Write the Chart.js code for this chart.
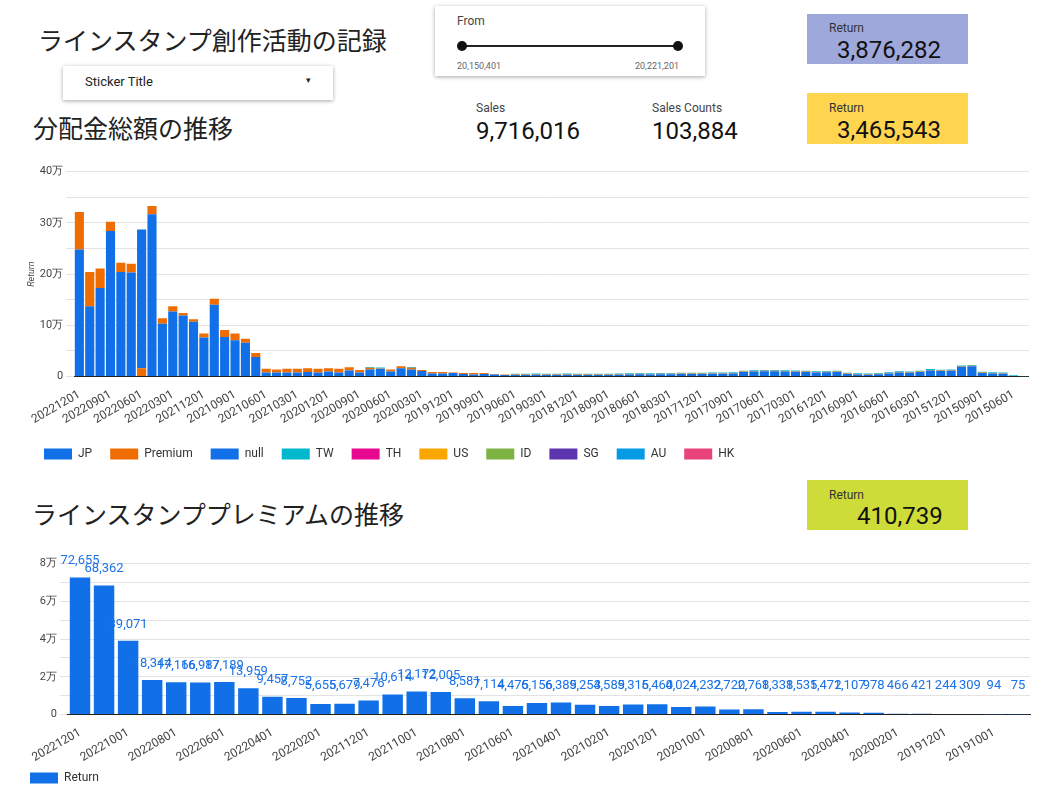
<!DOCTYPE html>
<html><head><meta charset="utf-8">
<script src="https://cdn.jsdelivr.net/npm/chart.js@4"></script>
<style>
body{margin:0;width:1042px;height:797px;background:#fff;font-family:Roboto,"Noto Sans CJK JP",sans-serif;position:relative;overflow:hidden;color:#222}
.abs{position:absolute}
.title{font-family:"Noto Sans CJK JP";font-size:25px;color:#222}
.card{box-shadow:0 1px 4px rgba(0,0,0,.35);background:#fff}
.ret{font-size:12px;color:#333}
.big{font-size:24px;color:#111}
.small{font-size:12px;color:#444}
</style></head><body>
<div class="abs title" style="left:38px;top:21px">ラインスタンプ創作活動の記録</div>
<div class="abs card" style="left:63px;top:66px;width:270px;height:34px">
  <div class="abs" style="left:22px;top:8px;font-size:13px">Sticker Title</div>
  <div class="abs" style="left:243px;top:9px;font-size:9px">▾</div>
</div>
<div class="abs card" style="left:435px;top:6px;width:270px;height:70px">
  <div class="abs small" style="left:22px;top:8px">From</div>
  <div class="abs" style="left:27px;top:39px;width:216px;height:2px;background:#222"></div>
  <div class="abs" style="left:22px;top:35px;width:10px;height:10px;border-radius:5px;background:#111"></div>
  <div class="abs" style="left:238px;top:35px;width:10px;height:10px;border-radius:5px;background:#111"></div>
  <div class="abs" style="left:22px;top:55px;font-size:9px;color:#666">20,150,401</div>
  <div class="abs" style="left:200px;top:55px;font-size:9px;color:#666">20,221,201</div>
</div>
<div class="abs" style="left:807px;top:14px;width:161px;height:50px;background:#9fa8da">
  <div class="abs ret" style="left:22px;top:7px">Return</div>
  <div class="abs big" style="left:30px;top:22px">3,876,282</div>
</div>
<div class="abs title" style="left:33px;top:109px">分配金総額の推移</div>
<div class="abs small" style="left:476px;top:101px">Sales</div>
<div class="abs big" style="left:476px;top:117px">9,716,016</div>
<div class="abs small" style="left:652px;top:101px">Sales Counts</div>
<div class="abs big" style="left:652px;top:117px">103,884</div>
<div class="abs" style="left:807px;top:93px;width:161px;height:51px;background:#ffd54f">
  <div class="abs ret" style="left:22px;top:8px">Return</div>
  <div class="abs big" style="left:30px;top:23px">3,465,543</div>
</div>
<div class="abs" style="left:22px;top:162px;width:1012px;height:308px"><canvas id="c1"></canvas></div>
<div class="abs title" style="left:32px;top:495px">ラインスタンププレミアムの推移</div>
<div class="abs" style="left:807px;top:480px;width:161px;height:50px;background:#cddc39">
  <div class="abs ret" style="left:22px;top:8px">Return</div>
  <div class="abs big" style="left:50px;top:22px">410,739</div>
</div>
<div class="abs" style="left:22px;top:554px;width:1012px;height:240px"><canvas id="c2"></canvas></div>
<script>
// 分配金総額: monthly, newest first (yen)
const jp = [248000,137000,173000,284000,204000,203000,0,317000,103000,127000,119000,107000,76000,140000,77000,71000,66000,38000,8000,
  8000,8000,8000,9000,8000,10000,8000,12000,8000,14000,15000,10000,16000,14000,11000,6000,6000,7000,5000,4000,5000,4000,3000,
  3000,3000,3500,3000,3000,3500,3000,3000,3000,
  3000,3500,4000,4500,4000,4500,4500,5000,5000,5000,5500,5500,6000,
  9000,10000,10500,10500,10000,9500,9000,8000,8500,9000,
  5000,4000,3500,4500,6000,
  8000,7500,9000,12000,11000,11500,19000,
  20000,7000,6000,5500,1000,500];
const premium = [73000,67000,38000,18000,18000,17000,16000,16000,11000,10000,5000,5000,8000,12000,14000,13000,8000,8000,7000,
  6000,7000,7000,7000,7000,6000,7000,6000,5000,3000,1000,4000,4000,3000,2000,3000,3000,1000,2000,3000,2000,1000,1000,
  1000,1000,1000,1000,1000,1000,1000,1000,1000,
  1000,1000,1000,1000,1000,1000,1000,1000,1000,1000,1000,1000,1000,
  1000,1000,1000,1000,1000,1000,1000,1000,1000,1000,
  1000,1000,1000,1000,1000,
  1000,1000,1000,1000,1000,1000,1000,
  1000,1000,1000,1000,0,0];
const nullSeries = [0,0,0,0,0,0,271000];
const tw = [0,0,0,0,0,0,0,0,0,0,0,0,0,0,0,0,0,0,0,
  0,0,0,0,0,0,0,0,0,1500,1500,0,0,1500,0,0,0,0,0,0,0,0,0,
  1500,1500,1500,1500,1500,1500,1500,1500,1500,
  1500,1500,1500,1500,1500,1500,1500,1500,1500,1500,1500,1500,1500,
  1500,1500,1500,1500,1500,1500,1500,1500,1500,1500,
  1500,1500,1500,1500,1500,
  1500,1500,1500,1500,1500,1500,1500,
  1500,1500,1500,1500,1500,500];
// プレミアム (yen), newest first
const premiumReturn = [72655,68362,39071,18344,17166,16987,17189,13959,9457,8752,5655,5679,7476,10614,12172,12005,8581,7114,4475,6156,
  6389,5253,4589,5316,5460,4024,4232,2720,2768,1338,1535,1472,1107,978,466,421,244,309,94,75];

function months(n) {
  const out = [];
  let y = 2022, m = 12;
  for (let i = 0; i < n; i++) {
    out.push(`${y}${String(m).padStart(2,'0')}01`);
    m--; if (m === 0) { m = 12; y--; }
  }
  return out;
}
const labels1 = months(jp.length);
const labels2 = months(premiumReturn.length);

const BLUE = '#1170e8';
const tickFont = {family: 'Roboto', size: 12};
const man = v => v === 0 ? '0' : (v / 10000) + '万';

Chart.defaults.font.family = 'Roboto';
Chart.defaults.color = '#444';

new Chart(document.getElementById('c1'), {
  type: 'bar',
  data: {
    labels: labels1,
    datasets: [
      {label: 'JP', data: jp, backgroundColor: BLUE},
      {label: 'Premium', data: premium, backgroundColor: '#ef6c00'},
      {label: 'null', data: nullSeries, backgroundColor: BLUE},
      {label: 'TW', data: tw, backgroundColor: '#00b8cc'},
      {label: 'TH', data: [], backgroundColor: '#e8088f'},
      {label: 'US', data: [], backgroundColor: '#f9a600'},
      {label: 'ID', data: [], backgroundColor: '#7cb342'},
      {label: 'SG', data: [], backgroundColor: '#5e35b1'},
      {label: 'AU', data: [], backgroundColor: '#039be5'},
      {label: 'HK', data: [], backgroundColor: '#e8437a'}
    ]
  },
  options: {
    responsive: true, maintainAspectRatio: false, animation: false,
    datasets: {bar: {categoryPercentage: 0.88, barPercentage: 1}},
    layout: {padding: {right: 4, left: 4}},
    plugins: {
      legend: {position: 'bottom', align: 'start', labels: {boxWidth: 28, boxHeight: 11, font: {size: 12}, color: '#333', padding: 18}},
      tooltip: {enabled: false}
    },
    scales: {
      x: {stacked: true, grid: {display: false},
        border: {color: '#222'},
        ticks: {autoSkip: false, maxRotation: 30, minRotation: 30, font: tickFont,
          callback: function(v, i) { return i % 3 === 0 ? this.getLabelForValue(v) : ''; }}},
      y: {stacked: true, min: 0, max: 400000,
        title: {display: true, text: 'Return', font: {size: 9, style: 'italic'}, padding: 0},
        border: {display: false},
        grid: {color: '#e3e3e3'},
        ticks: {stepSize: 50000, font: {size: 11}, callback: v => v % 100000 === 0 ? man(v) : ''}}
    }
  }
});

const valueLabels = {
  id: 'valueLabels',
  afterDatasetsDraw(chart) {
    const ctx = chart.ctx;
    const meta = chart.getDatasetMeta(0);
    ctx.save();
    ctx.font = '13px Roboto';
    ctx.fillStyle = '#1a73e8';
    ctx.textAlign = 'center';
    ctx.textBaseline = 'bottom';
    meta.data.forEach((bar, i) => {
      ctx.fillText(premiumReturn[i].toLocaleString('en-US'), bar.x, Math.min(bar.y, chart.scales.y.bottom - 12) - 10);
    });
    ctx.restore();
  }
};

new Chart(document.getElementById('c2'), {
  type: 'bar',
  data: {labels: labels2, datasets: [{label: 'Return', data: premiumReturn, backgroundColor: BLUE}]},
  options: {
    responsive: true, maintainAspectRatio: false, animation: false,
    datasets: {bar: {categoryPercentage: 0.85, barPercentage: 1}},
    layout: {padding: {right: 4, left: 4, top: 4}},
    plugins: {
      legend: {position: 'bottom', align: 'start', labels: {boxWidth: 28, boxHeight: 11, font: {size: 12}, color: '#333', padding: 4}},
      tooltip: {enabled: false}
    },
    scales: {
      x: {grid: {display: false}, border: {color: '#222'},
        ticks: {autoSkip: false, maxRotation: 30, minRotation: 30, font: tickFont,
          callback: function(v, i) { return i % 2 === 0 ? this.getLabelForValue(v) : ''; }}},
      y: {min: 0, max: 80000, border: {display: false}, grid: {color: '#e3e3e3'},
        title: {display: true, text: ' ', font: {size: 9}, padding: 0},
        ticks: {stepSize: 10000, font: {size: 11}, callback: v => v % 20000 === 0 ? man(v) : ''}}
    }
  },
  plugins: [valueLabels]
});
</script>
</body></html>
